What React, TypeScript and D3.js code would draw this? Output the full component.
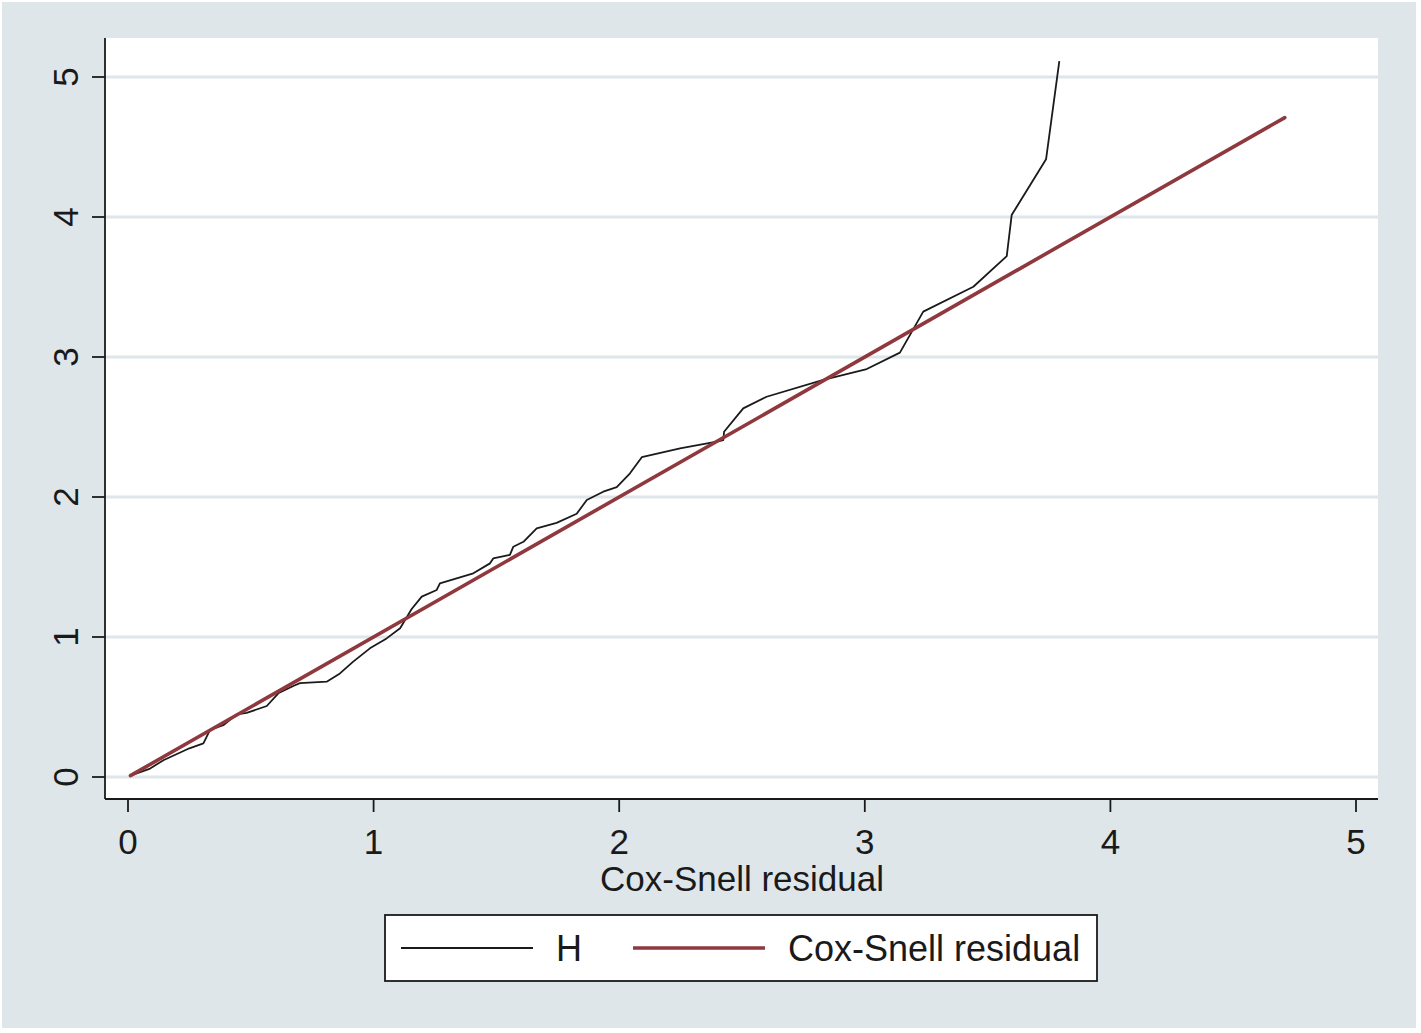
import React from "react";
import * as d3 from "d3";

// Nelson-Aalen cumulative hazard (H) against Cox-Snell residuals
const hX = [
  0.01, 0.09, 0.144, 0.25, 0.307, 0.334, 0.388, 0.443, 0.483, 0.565, 0.612, 0.673, 0.7,
  0.809, 0.863, 0.917, 0.985, 1.053, 1.108, 1.155, 1.196, 1.257, 1.27, 1.338, 1.406,
  1.474, 1.487, 1.555, 1.569, 1.61, 1.664, 1.745, 1.827, 1.868, 1.935, 1.99, 2.044,
  2.092, 2.248, 2.397, 2.424, 2.427, 2.505, 2.6, 2.831, 3.008, 3.143, 3.238, 3.442,
  3.578, 3.598, 3.738, 3.792,
];
const hY = [
  0.01, 0.06, 0.12, 0.205, 0.24, 0.336, 0.37, 0.448, 0.458, 0.507, 0.598, 0.65, 0.67,
  0.681, 0.74, 0.824, 0.919, 0.99, 1.062, 1.2, 1.288, 1.336, 1.383, 1.418, 1.455,
  1.526, 1.561, 1.586, 1.645, 1.68, 1.776, 1.815, 1.88, 1.979, 2.038, 2.07, 2.169,
  2.284, 2.348, 2.395, 2.407, 2.466, 2.633, 2.716, 2.836, 2.914, 3.031, 3.324, 3.502,
  3.721, 4.014, 4.412, 5.114,
];
// reference line: Cox-Snell residual against itself
const csX = [0.01, 4.71];
const csY = [0.01, 4.71];

const xTicks = [0, 1, 2, 3, 4, 5];
const yTicks = [0, 1, 2, 3, 4, 5];
const xTitle = "Cox-Snell residual";
const legendLabels = ["H", "Cox-Snell residual"];

const W = 1421;
const H = 1033;
const BG = "#dfe6ea";
const RED = "#8f383d";
const INK = "#1a1a1a";
const FONT = "'Liberation Sans', Arial, Helvetica, sans-serif";

const App: React.FC = () => {
  const plot = { left: 105, right: 1378, top: 38, bottom: 799 };

  const x = d3.scaleLinear().domain([0, 5]).range([128, 1356]);
  const y = d3.scaleLinear().domain([0, 5]).range([777, 77]);

  const line = d3
    .line<[number, number]>()
    .x((d) => x(d[0]))
    .y((d) => y(d[1]));

  const hPts = hX.map((v, i) => [v, hY[i]] as [number, number]);
  const csPts = csX.map((v, i) => [v, csY[i]] as [number, number]);

  const legend = { x: 385, y: 915, w: 712, h: 66 };
  const legMid = legend.y + 33;

  return (
    <svg
      width={W}
      height={H}
      style={{ position: "absolute", left: 0, top: 0, fontFamily: FONT }}
    >
      <rect x={0} y={0} width={W} height={H} fill="#ffffff" />
      <rect x={2} y={2} width={1414} height={1026} fill={BG} />

      {/* plot region */}
      <rect
        x={plot.left}
        y={plot.top}
        width={plot.right - plot.left}
        height={plot.bottom - plot.top}
        fill="#ffffff"
      />

      {/* grid */}
      {yTicks.map((t) => (
        <line
          key={"g" + t}
          x1={plot.left}
          x2={plot.right}
          y1={y(t)}
          y2={y(t)}
          stroke={BG}
          strokeWidth={2.8}
        />
      ))}

      {/* series */}
      <path d={line(hPts) ?? ""} fill="none" stroke={INK} strokeWidth={1.8} strokeLinejoin="round" />
      <path d={line(csPts) ?? ""} fill="none" stroke={RED} strokeWidth={3.6} strokeLinecap="round" />

      {/* axes */}
      <line x1={plot.left} x2={plot.left} y1={plot.top} y2={plot.bottom} stroke={INK} strokeWidth={1.8} />
      <line x1={plot.left} x2={plot.right} y1={plot.bottom} y2={plot.bottom} stroke={INK} strokeWidth={1.8} />

      {yTicks.map((t) => (
        <g key={"y" + t}>
          <line x1={plot.left - 13} x2={plot.left} y1={y(t)} y2={y(t)} stroke={INK} strokeWidth={1.8} />
          <text
            transform={`translate(78,${y(t)}) rotate(-90)`}
            textAnchor="middle"
            fontSize={35}
            fill={INK}
          >
            {t}
          </text>
        </g>
      ))}

      {xTicks.map((t) => (
        <g key={"x" + t}>
          <line x1={x(t)} x2={x(t)} y1={plot.bottom} y2={plot.bottom + 13} stroke={INK} strokeWidth={1.8} />
          <text x={x(t)} y={854} textAnchor="middle" fontSize={35} fill={INK}>
            {t}
          </text>
        </g>
      ))}

      <text x={742} y={891} textAnchor="middle" fontSize={35} fill={INK}>
        {xTitle}
      </text>

      {/* legend */}
      <rect
        x={legend.x}
        y={legend.y}
        width={legend.w}
        height={legend.h}
        fill="#ffffff"
        stroke={INK}
        strokeWidth={1.8}
      />
      <line x1={401} x2={533} y1={legMid} y2={legMid} stroke={INK} strokeWidth={1.8} />
      <text x={569} y={legMid + 13} textAnchor="middle" fontSize={36} fill={INK}>
        {legendLabels[0]}
      </text>
      <line x1={633} x2={765} y1={legMid} y2={legMid} stroke={RED} strokeWidth={3.6} />
      <text x={788} y={legMid + 13} fontSize={36} fill={INK}>
        {legendLabels[1]}
      </text>
    </svg>
  );
};

export default App;
